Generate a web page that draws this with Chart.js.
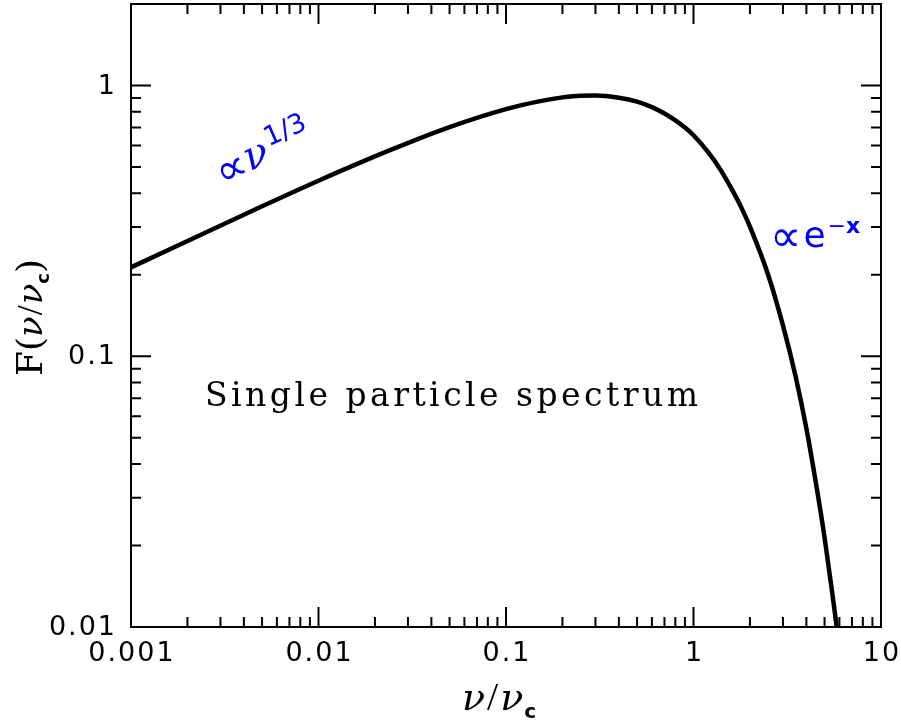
<!DOCTYPE html>
<html>
<head>
<meta charset="utf-8">
<script src="https://cdn.jsdelivr.net/npm/chart.js@4.4.1/dist/chart.umd.min.js"></script>
<style>html,body{margin:0;padding:0;background:#fff;}</style>
</head>
<body>
<canvas id="canvas" width="901" height="724"></canvas>
<script>
// synchrotron single particle spectrum
const nuRatio = [0.001, 0.005, 0.01, 0.025, 0.05, 0.1, 0.15, 0.2, 0.25, 0.3, 0.4, 0.5, 0.6, 0.7, 0.8, 0.9, 1.0, 1.2, 1.4, 1.6, 1.8, 2.0, 2.5, 3.0, 3.5, 4.0, 4.5, 5.0, 5.5, 6.0, 6.5];
const fValues = [0.213, 0.358, 0.445, 0.583, 0.702, 0.818, 0.874, 0.904, 0.917, 0.918, 0.901, 0.872, 0.832, 0.788, 0.743, 0.699, 0.655, 0.566, 0.486, 0.414, 0.354, 0.301, 0.200, 0.130, 0.0845, 0.0541, 0.0339, 0.0214, 0.0133, 0.0084, 0.0053];
const xTickLabels = ['0.001', '0.01', '0.1', '1', '10'];
const yTickLabels = ['0.01', '0.1', '1'];
const xRange = [0.001, 10];
const yRange = [0.01, 2];

const BLUE = '#0000ff';

function logTicks(min, max) {
    let out = [];
    for (let e = Math.floor(Math.log10(min)); e <= Math.ceil(Math.log10(max)); e++) {
        for (let m = 1; m <= 9; m++) {
            let v = m * Math.pow(10, e);
            if (v >= min * 0.999 && v <= max * 1.001) out.push({v: v, major: m === 1});
        }
    }
    return out;
}

// draw a row of differently styled pieces of text
function drawRuns(ctx, runs, x, y) {
    for (let r of runs) {
        ctx.font = r.font;
        ctx.fillText(r.text, x + (r.dx || 0), y + (r.dy || 0));
        x += ctx.measureText(r.text).width + (r.dx || 0) + (r.gap || 0);
    }
}

function fitText(ctx, text, font, x, y, width) {
    ctx.font = font;
    ctx.letterSpacing = '0px';
    let w = ctx.measureText(text).width;
    let sp = (width - w) / (text.length - 1);
    ctx.letterSpacing = sp + 'px';
    ctx.fillText(text, x, y);
    ctx.letterSpacing = '0px';
}

const framePlugin = {
    id: 'frame',
    afterDraw(chart) {
        const ctx = chart.ctx;
        const a = chart.chartArea;
        const xs = chart.scales.x, ys = chart.scales.y;
        ctx.save();
        ctx.strokeStyle = '#000';
        ctx.lineWidth = 2;
        ctx.strokeRect(a.left, a.top, a.right - a.left, a.bottom - a.top);
        ctx.beginPath();
        for (let t of logTicks(xRange[0], xRange[1])) {
            let px = xs.getPixelForValue(t.v);
            let len = t.major ? 20 : 10;
            ctx.moveTo(px, a.bottom); ctx.lineTo(px, a.bottom - len);
            ctx.moveTo(px, a.top); ctx.lineTo(px, a.top + len);
        }
        for (let t of logTicks(yRange[0], yRange[1])) {
            let py = ys.getPixelForValue(t.v);
            let len = t.major ? 20 : 10;
            ctx.moveTo(a.left, py); ctx.lineTo(a.left + len, py);
            ctx.moveTo(a.right, py); ctx.lineTo(a.right - len, py);
        }
        ctx.stroke();

        // tick labels
        ctx.fillStyle = '#000';
        ctx.font = '27px "DejaVu Sans"';
        ctx.letterSpacing = '2px';
        ctx.textAlign = 'center';
        ctx.textBaseline = 'alphabetic';
        for (let l of xTickLabels) {
            ctx.fillText(l, xs.getPixelForValue(Number(l)) + 1, 661);
        }
        ctx.textAlign = 'right';
        ctx.textBaseline = 'middle';
        for (let l of yTickLabels) {
            ctx.fillText(l, 117, ys.getPixelForValue(Number(l)) + 1);
        }
        ctx.letterSpacing = '0px';

        // axis titles
        ctx.textAlign = 'left';
        ctx.textBaseline = 'alphabetic';
        const nu = 'italic 38px "DejaVu Serif"';
        const sl = '40px "Liberation Serif"';
        const sub = 'bold 20px "DejaVu Sans"';
        drawRuns(ctx, [
            {text: '\u03bd', font: nu, gap: 2},
            {text: '/', font: sl, gap: 2},
            {text: '\u03bd', font: nu, gap: 1},
            {text: 'c', font: sub, dy: 8}
        ], 462, 710);

        ctx.save();
        ctx.translate(42, 376);
        ctx.rotate(-Math.PI / 2);
        drawRuns(ctx, [
            {text: 'F', font: '36px "DejaVu Serif"'},
            {text: '(', font: '36px "DejaVu Serif"'},
            {text: '\u03bd', font: 'italic 34px "DejaVu Serif"', gap: 1},
            {text: '/', font: '36px "Liberation Serif"', gap: 1},
            {text: '\u03bd', font: 'italic 34px "DejaVu Serif"'},
            {text: 'c', font: 'bold 18px "DejaVu Sans"', dy: 7},
            {text: ')', font: '36px "DejaVu Serif"'}
        ], 0, 0);
        ctx.restore();

        // annotations
        fitText(ctx, 'Single particle spectrum', '33px "DejaVu Serif"', 205, 406, 493);

        ctx.fillStyle = BLUE;
        ctx.save();
        ctx.translate(221, 184);
        ctx.rotate(-24 * Math.PI / 180);
        drawRuns(ctx, [
            {text: '\u221d', font: '44px "DejaVu Sans"', dy: 4, gap: 0},
            {text: '\u03bd', font: 'italic 40px "DejaVu Serif"', gap: 3},
            {text: '1/3', font: '27px "DejaVu Sans"', dy: -15}
        ], 0, 0);
        ctx.restore();

        drawRuns(ctx, [
            {text: '\u221d', font: '44px "DejaVu Sans"', dy: 4, gap: 2},
            {text: 'e', font: '36px "DejaVu Sans"', gap: 2},
            {text: '\u2212', font: '22px "DejaVu Sans"', dy: -14},
            {text: 'x', font: 'bold 22px "DejaVu Sans"', dy: -14}
        ], 770, 247);
        ctx.restore();
    }
};

const ctx = document.getElementById('canvas').getContext('2d');
const chart = new Chart(ctx, {
    type: 'line',
    data: {
        datasets: [{
            data: nuRatio.map((x, i) => ({x: x, y: fValues[i]})),
            borderColor: '#000',
            borderWidth: 4.5,
            pointRadius: 0,
            cubicInterpolationMode: 'monotone',
            fill: false
        }]
    },
    options: {
        responsive: false,
        animation: false,
        devicePixelRatio: 1,
        layout: {padding: {left: 131, right: 20, top: 4, bottom: 97}},
        plugins: {legend: {display: false}, tooltip: {enabled: false}},
        scales: {
            x: {type: 'logarithmic', min: xRange[0], max: xRange[1], display: false},
            y: {type: 'logarithmic', min: yRange[0], max: yRange[1], display: false}
        }
    },
    plugins: [framePlugin]
});
</script>
</body>
</html>
